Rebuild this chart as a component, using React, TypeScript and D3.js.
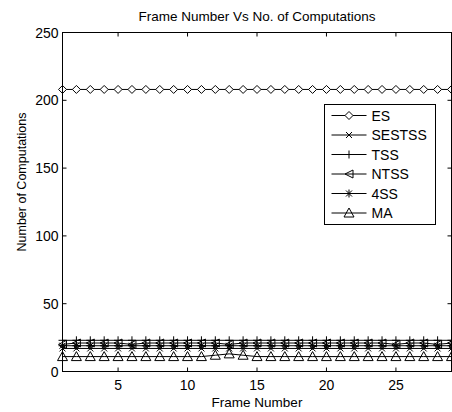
import React from "react";
import * as d3 from "d3";

const frames = [1,2,3,4,5,6,7,8,9,10,11,12,13,14,15,16,17,18,19,20,21,22,23,24,25,26,27,28,29];
const esVals = [208,208,208,208,208,208,208,208,208,208,208,208,208,208,208,208,208,208,208,208,208,208,208,208,208,208,208,208,208];
const sestssVals = [17,17,17,17,17,17,17,17,17,17,17,17,17,17,17,17,17,17,17,17,17,17,17,17,17,17,17,17,17];
const tssVals = [23,23,23,23,23,23,23,23,23,23,23,23,23,23,23,23,23,23,23,23,23,23,23,23,23,23,23,23,23];
const ntssVals = [20,21,21,21,21,20,21,21,21,21,21,21,20,21,21,21,21,21,21,21,21,21,21,21,20,21,21,20,21];
const fssVals = [19,19,19,19,19,19,19,19,19,19,19,19,19,19,19,19,19,19,19,19,19,19,19,19,19,19,19,19,19];
const maVals = [11,11,11,11,11,11,11,11,11,11,11,12,13,12,11,11,11,11,11,11,11,11,11,11,11,11,11,11,11];
const seriesNames = ["ES", "SESTSS", "TSS", "NTSS", "4SS", "MA"];
const seriesMarkers = ["diamond", "x", "plus", "left", "star", "up"];
const seriesValues = [esVals, sestssVals, tssVals, ntssVals, fssVals, maVals];
const yTicks = [0, 50, 100, 150, 200, 250];
const xTicks = [5, 10, 15, 20, 25];

const W = 452, H = 412;
const M = { left: 62.5, right: 451.5, top: 32.5, bottom: 371.5 };
const FONT = "'Liberation Sans', Arial, sans-serif";

function Marker({ type, x, y }: { type: string; x: number; y: number }) {
  const s = 4;
  const common = { stroke: "#000", strokeWidth: 1, fill: "none" };
  switch (type) {
    case "diamond":
      return <path d={`M${x},${y - s}L${x + s},${y}L${x},${y + s}L${x - s},${y}Z`} {...common} fill="#fff" />;
    case "x":
      return <path d={`M${x - 3},${y - 3}L${x + 3},${y + 3}M${x - 3},${y + 3}L${x + 3},${y - 3}`} {...common} />;
    case "plus":
      return <path d={`M${x - s},${y}L${x + s},${y}M${x},${y - s}L${x},${y + s}`} {...common} />;
    case "left":
      return <path d={`M${x - s},${y}L${x + s},${y - s}L${x + s},${y + s}Z`} {...common} fill="none" />;
    case "star":
      return <path d={`M${x - s},${y}L${x + s},${y}M${x},${y - s}L${x},${y + s}M${x - 3},${y - 3}L${x + 3},${y + 3}M${x - 3},${y + 3}L${x + 3},${y - 3}`} {...common} />;
    case "up":
      return <path d={`M${x},${y - s - 1}L${x + s + 1},${y + s}L${x - s - 1},${y + s}Z`} {...common} fill="none" />;
  }
  return null;
}

export default function App() {
  const x = d3.scaleLinear().domain([1, 29]).range([M.left, M.right]);
  const y = d3.scaleLinear().domain([0, 250]).range([M.bottom, M.top]);
  const line = d3.line<number>().x((_, i) => x(frames[i])).y((d) => y(d));

  const legX = 324.5, legY = 104.5, legW = 111, rowH = 19.5;
  const legH = rowH * seriesNames.length + 3;

  return (
    <svg width={W} height={H} style={{ position: "absolute", left: 0, top: 0, background: "#fff" }} fontFamily={FONT}>
      <rect x={0} y={0} width={W} height={H} fill="#fff" />
      <text x={(M.left + M.right) / 2} y={21} textAnchor="middle" fontSize={13.5}>Frame Number Vs No. of Computations</text>
      <defs>
        <clipPath id="plotclip">
          <rect x={M.left - 6} y={M.top - 6} width={M.right - M.left + 12} height={M.bottom - M.top + 12} />
        </clipPath>
      </defs>
      {/* series */}
      <g clipPath="url(#plotclip)">
        {seriesValues.map((vals, si) => (
          <g key={si}>
            <path d={line(vals) || ""} fill="none" stroke="#000" strokeWidth={1} />
            {vals.map((v, i) => (
              <Marker key={i} type={seriesMarkers[si]} x={x(frames[i])} y={y(v)} />
            ))}
          </g>
        ))}
      </g>
      {/* axes box */}
      <rect x={M.left} y={M.top} width={M.right - M.left} height={M.bottom - M.top} fill="none" stroke="#000" strokeWidth={1} />
      {yTicks.map((t) => (
        <g key={"y" + t}>
          <line x1={M.left} x2={M.left + 4} y1={y(t)} y2={y(t)} stroke="#000" />
          <line x1={M.right} x2={M.right - 4} y1={y(t)} y2={y(t)} stroke="#000" />
          <text x={M.left - 4} y={y(t) + 5} textAnchor="end" fontSize={14}>{t}</text>
        </g>
      ))}
      {xTicks.map((t) => (
        <g key={"x" + t}>
          <line x1={x(t)} x2={x(t)} y1={M.bottom} y2={M.bottom - 4} stroke="#000" />
          <line x1={x(t)} x2={x(t)} y1={M.top} y2={M.top + 4} stroke="#000" />
          <text x={x(t)} y={390} textAnchor="middle" fontSize={14}>{t}</text>
        </g>
      ))}
      <text x={(M.left + M.right) / 2} y={407} textAnchor="middle" fontSize={13.5}>Frame Number</text>
      <text transform={`translate(26,182) rotate(-90)`} textAnchor="middle" fontSize={12.5}>Number of Computations</text>
      {/* legend */}
      <rect x={legX} y={legY} width={legW} height={legH} fill="#fff" stroke="#000" strokeWidth={1} />
      {seriesNames.map((n, i) => {
        const cy = legY + 11 + i * rowH;
        return (
          <g key={n}>
            <line x1={legX + 7} x2={legX + 42} y1={cy} y2={cy} stroke="#000" />
            <Marker type={seriesMarkers[i]} x={legX + 24.5} y={cy} />
            <text x={legX + 47} y={cy + 5} fontSize={14}>{n}</text>
          </g>
        );
      })}
    </svg>
  );
}
